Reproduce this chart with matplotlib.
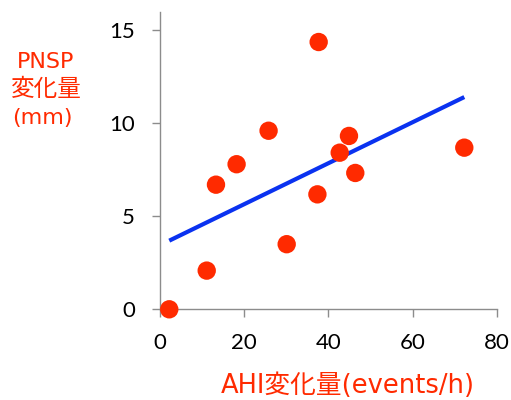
import matplotlib
matplotlib.use("Agg")
import matplotlib.pyplot as plt

# data
ahi_change = [2.2, 11.1, 13.3, 18.2, 25.8, 30.1, 37.4, 37.7, 42.7, 44.9, 46.4, 72.3]
pnsp_change = [0.0, 2.08, 6.7, 7.8, 9.6, 3.5, 6.18, 14.37, 8.42, 9.32, 7.33, 8.69]
trend_x = [2.2, 72.3]
trend_y = [3.69, 11.41]
x_ticks = [0, 20, 40, 60, 80]
y_ticks = [0, 5, 10, 15]

red = "#FF2A00"
blue = "#0A32F0"
gray = "#8C8C8C"

fig = plt.figure(figsize=(5.11, 4.0), dpi=100)
ax = fig.add_axes([160/511, 1-309.3/400, (496.7-160)/511, (309.3-11.7)/400])

ax.plot(trend_x, trend_y, color=blue, lw=3.0, solid_capstyle="butt", zorder=2)
ax.scatter(ahi_change, pnsp_change, s=175, color=red, edgecolors="none", zorder=3, clip_on=False)

ax.set_xlim(0, 80)
ax.set_ylim(0, 16)
ax.set_xticks(x_ticks)
ax.set_yticks(y_ticks)
for s in ["top", "right"]:
    ax.spines[s].set_visible(False)
for s in ["left", "bottom"]:
    ax.spines[s].set_color(gray)
    ax.spines[s].set_linewidth(1.0)
ax.tick_params(axis="both", colors=gray, length=6, width=1.0, direction="out",
               labelcolor="black", labelsize=16)
ax.tick_params(axis="x", pad=11)
ax.tick_params(axis="y", pad=12)
for lab in ax.get_xticklabels() + ax.get_yticklabels():
    lab.set_family(["Lato", "DejaVu Sans"])

lat_cjk = ["DejaVu Sans", "Noto Sans CJK JP"]
fig.text(348/511, 1-386/400, "AHI変化量(events/h)", color=red, fontsize=18.5,
         family=lat_cjk, ha="center", va="center")
fig.text(46/511, 1-62/400, "PNSP", color=red, fontsize=16,
         family=lat_cjk, ha="center", va="center")
fig.text(46/511, 1-90/400, "変化量", color=red, fontsize=17,
         family=["Noto Sans CJK JP", "DejaVu Sans"], ha="center", va="center")
fig.text(42/511, 1-118/400, "(mm)", color=red, fontsize=16,
         family=lat_cjk, ha="center", va="center")

fig.savefig("out.png", dpi=100)
